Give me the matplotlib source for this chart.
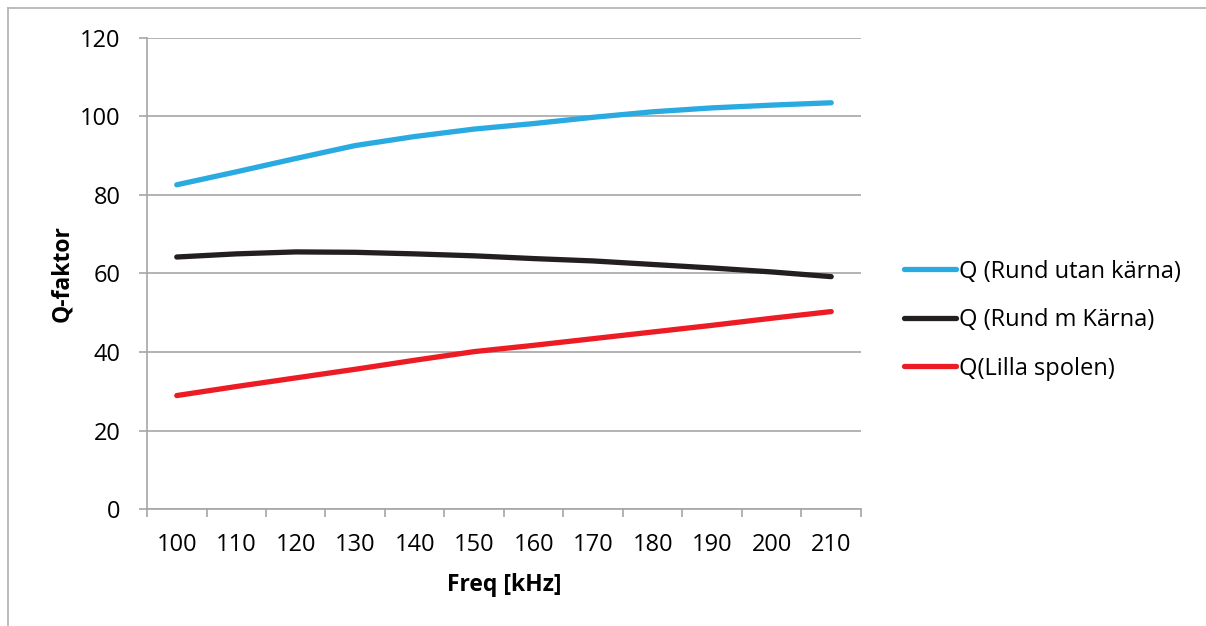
import matplotlib.pyplot as plt
from matplotlib.lines import Line2D

plt.rcParams['font.family'] = ['Open Sans', 'DejaVu Sans']

freq = [100, 110, 120, 130, 140, 150, 160, 170, 180, 190, 200, 210]
q_utan = [82.6, 85.9, 89.3, 92.6, 94.9, 96.8, 98.2, 99.8, 101.2, 102.2, 102.9, 103.5]
q_med = [64.2, 65.0, 65.5, 65.4, 65.0, 64.5, 63.8, 63.2, 62.3, 61.4, 60.4, 59.2]
q_lilla = [28.9, 31.2, 33.4, 35.6, 37.9, 40.1, 41.7, 43.4, 45.1, 46.8, 48.6, 50.3]
labels = ["Q (Rund utan kärna)", "Q (Rund m Kärna)", "Q(Lilla spolen)"]
colors = ["#29abe2", "#231f20", "#ed1c24"]

fig = plt.figure(figsize=(12.06, 6.26), dpi=100)
ax = fig.add_axes([0.1219, 0.1869, 0.592, 0.7524])

for ys, lab, c in zip([q_utan, q_med, q_lilla], labels, colors):
    ax.plot(freq, ys, color=c, lw=3.8, label=lab, solid_capstyle='round')

grid_c = "#a6a6a6"
ax.set_xlim(95, 215)
ax.set_ylim(0, 120)
ax.set_yticks(range(0, 121, 20))
ax.set_xticks(freq)
ax.set_xticks([95 + 10 * i for i in range(13)], minor=True)
ax.grid(axis='y', color=grid_c, lw=1.2)
ax.set_axisbelow(True)

for s in ['top', 'right']:
    ax.spines[s].set_visible(False)
for s in ['left', 'bottom']:
    ax.spines[s].set_color(grid_c)
    ax.spines[s].set_linewidth(1.2)

ax.tick_params(axis='x', which='major', length=0, pad=17, labelsize=17)
ax.tick_params(axis='x', which='minor', length=6, color=grid_c, width=1.2)
ax.tick_params(axis='y', length=6, color=grid_c, width=1.2, pad=13, labelsize=17)

ax.set_xlabel("Freq [kHz]", fontsize=16.5, fontweight='bold', labelpad=12)
ax.set_ylabel("Q-faktor", fontsize=16.5, fontweight='bold', labelpad=4)

ax.legend(loc='center left', bbox_to_anchor=(1.031, 0.401), frameon=False,
          fontsize=17, handlelength=2.2, handletextpad=0.1, labelspacing=1.04)

# outer chart frame, visible on left and top only
fig.add_artist(Line2D([0.0066, 0.0066], [0, 0.987], transform=fig.transFigure,
                      color="#b0b0b0", lw=1.2))
fig.add_artist(Line2D([0.0066, 1], [0.987, 0.987], transform=fig.transFigure,
                      color="#b0b0b0", lw=1.2))

fig.savefig("out.png", dpi=100)
